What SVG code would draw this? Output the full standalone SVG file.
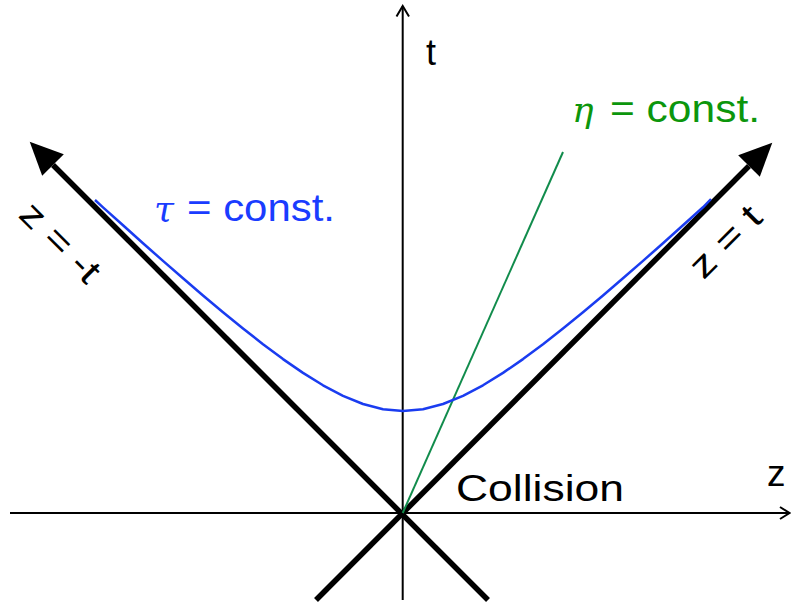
<svg xmlns="http://www.w3.org/2000/svg" width="791" height="605" viewBox="0 0 791 605">
<style>
.ax{stroke:#000;stroke-width:2;fill:none}
.cone{stroke:#000;stroke-width:5.5;fill:none}
.lbl{font-family:"Liberation Sans",Arial,sans-serif;fill:#000}
.blue{fill:#1a3cff}
.green{fill:#0c960c}
.greek{font-family:"DejaVu Serif","Liberation Serif",serif;font-style:italic}
</style>
<defs>
<marker id="head" markerUnits="userSpaceOnUse" markerWidth="40" markerHeight="40" viewBox="-2 -15 34 30" refX="0" refY="0" orient="auto">
<path d="M28,0 L0,-13 L0,13 Z" fill="#000"/>
</marker>
</defs>
<rect width="791" height="605" fill="#fff"/>
<g id="connectors">
<line class="ax" x1="402.7" y1="600" x2="402.7" y2="6"/>
<polyline class="ax" points="396.5,16.5 402.7,6 409,16.5"/>
<line class="ax" x1="10" y1="513" x2="789" y2="513"/>
<polyline class="ax" points="780,507 789.5,513 780,519"/>
<line class="cone" x1="488" y1="600" x2="53" y2="165" marker-end="url(#head)"/>
<line class="cone" x1="316" y1="600" x2="749" y2="166" marker-end="url(#head)"/>
<line x1="402.7" y1="513" x2="563" y2="152" stroke="#118c4c" stroke-width="2"/>
<polyline fill="none" stroke="#1a3cf0" stroke-width="2.5" stroke-linejoin="round" points="95,200 103,207.3 123,225.3 143,243.2 163,260.9 183,278.3 203,295.5 223,312.2 243,328.5 263,344.2 283,359.1 303,372.9 323,385.3 343,395.8 363,404 383,409.2 403,411 423,409.2 443,404 463,395.8 483,385.3 503,372.9 523,359.1 543,344.2 563,328.5 583,312.2 603,295.5 623,278.3 643,260.9 663,243.2 683,225.3 703,207.3 711,199"/>
</g>
<g id="axis-t"><text class="lbl" x="426" y="65" font-size="36">t</text></g>
<g id="axis-z"><text class="lbl" x="767" y="486" font-size="37">z</text></g>
<g id="collision"><text class="lbl" x="456" y="501" font-size="36" textLength="168" lengthAdjust="spacingAndGlyphs">Collision</text></g>
<g id="tau-label">
<text class="blue greek" x="154" y="221" font-size="36">τ</text>
<text class="lbl blue" x="187" y="221" font-size="38" textLength="148" lengthAdjust="spacingAndGlyphs">= const.</text>
</g>
<g id="eta-label">
<text class="green greek" x="572" y="122" font-size="36">η</text>
<text class="lbl green" x="610" y="122" font-size="38" textLength="150" lengthAdjust="spacingAndGlyphs">= const.</text>
</g>
<g id="line-minus"><text class="lbl" x="0" y="0" font-size="36" text-anchor="middle" textLength="98" lengthAdjust="spacingAndGlyphs" transform="translate(52,251) rotate(45)">z = -t</text></g>
<g id="line-plus"><text class="lbl" x="0" y="0" font-size="36" text-anchor="middle" textLength="86" lengthAdjust="spacingAndGlyphs" transform="translate(734,250) rotate(-45)">z = t</text></g>
</svg>
